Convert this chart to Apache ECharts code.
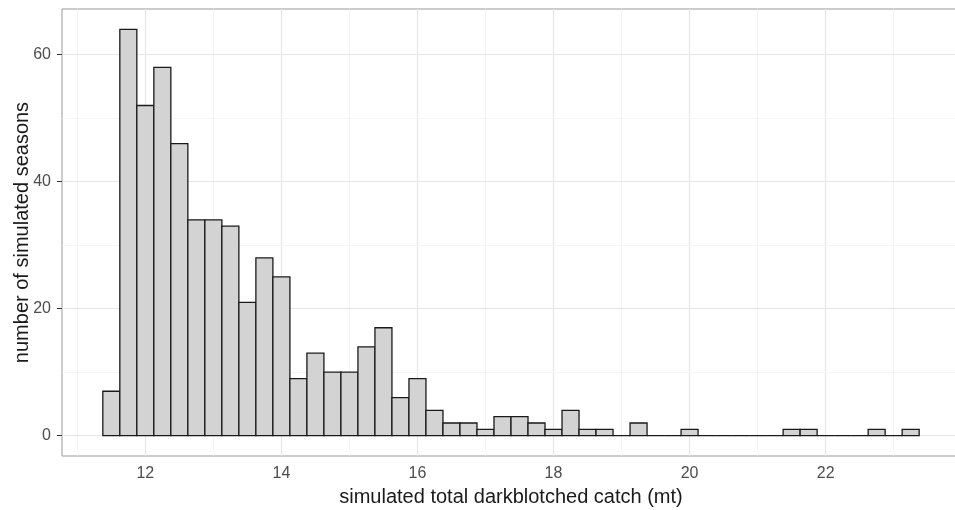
<!DOCTYPE html>
<html>
<head>
<meta charset="utf-8">
<script src="https://cdn.jsdelivr.net/npm/echarts@6/dist/echarts.min.js"></script>
<style>
  html, body { margin: 0; padding: 0; background: #fff; }
  #main { width: 955px; height: 510px; }
</style>
</head>
<body>
<div id="main"></div>
<script>
// histogram bins (width 0.25, first bin starts at 11.375)
var binStart = 11.375;
var binWidth = 0.25;
var counts = [7, 64, 52, 58, 46, 34, 34, 33, 21, 28, 25, 9, 13, 10, 10, 14,
  17, 6, 9, 4, 2, 2, 1, 3, 3, 2, 1, 4, 1, 1, 0, 2,
  0, 0, 1, 0, 0, 0, 0, 0, 1, 1, 0, 0, 0, 1, 0, 1];

var xTicks = [12, 14, 16, 18, 20, 22];
var xMinor = [11, 13, 15, 17, 19, 21, 23];
var yTicks = [0, 20, 40, 60];
var yMinor = [10, 30, 50];

var xTitle = 'simulated total darkblotched catch (mt)';
var yTitle = 'number of simulated seasons';

var binData = counts.map(function (c, i) {
  return [binStart + i * binWidth, binStart + (i + 1) * binWidth, c];
});

var chart = echarts.init(document.getElementById('main'));

var gridLines = [];
xTicks.forEach(function (v) { gridLines.push({xAxis: v, lineStyle: {color: '#e6e6e6', width: 1.2, type: 'solid'}}); });
xMinor.forEach(function (v) { gridLines.push({xAxis: v, lineStyle: {color: '#f3f3f3', width: 0.8, type: 'solid'}}); });
yTicks.forEach(function (v) { gridLines.push({yAxis: v, lineStyle: {color: '#e6e6e6', width: 1.2, type: 'solid'}}); });
yMinor.forEach(function (v) { gridLines.push({yAxis: v, lineStyle: {color: '#f3f3f3', width: 0.8, type: 'solid'}}); });

var option = {
  animation: false,
  backgroundColor: '#fff',
  textStyle: {fontFamily: 'Liberation Sans, Arial, sans-serif'},
  grid: {
    left: 62, top: 9, width: 898, height: 447,
    outerBoundsMode: 'none', containLabel: false,
    show: true, borderColor: '#999', borderWidth: 1, backgroundColor: '#fff'
  },
  xAxis: {
    type: 'value', min: 10.775, max: 23.975,
    name: xTitle, nameLocation: 'middle', nameGap: 31, nameMoveOverlap: false,
    nameTextStyle: {fontSize: 20, color: '#1a1a1a'},
    axisLine: {show: false},
    axisTick: {show: true, length: 5, lineStyle: {color: '#333'}, customValues: xTicks},
    axisLabel: {fontSize: 16, color: '#4d4d4d', margin: 10, customValues: xTicks},
    splitLine: {show: false}
  },
  yAxis: {
    type: 'value', min: -3.2, max: 67.2,
    name: yTitle, nameLocation: 'middle', nameGap: 30, nameMoveOverlap: false,
    nameTextStyle: {fontSize: 20, color: '#1a1a1a'},
    axisLine: {show: false},
    axisTick: {show: true, length: 5, lineStyle: {color: '#333'}, customValues: yTicks},
    axisLabel: {fontSize: 16, color: '#4d4d4d', margin: 11, customValues: yTicks},
    splitLine: {show: false}
  },
  series: [
    {
      type: 'line', data: [], z: 1, silent: true,
      markLine: {
        silent: true, symbol: 'none', label: {show: false},
        animation: false, data: gridLines
      }
    },
    {
      type: 'custom', z: 5,
      data: binData,
      encode: {x: [0, 1], y: 2},
      renderItem: function (params, api) {
        var top = api.coord([api.value(0), api.value(2)]);
        var bot = api.coord([api.value(1), 0]);
        return {
          type: 'rect',
          shape: {x: top[0], y: top[1], width: bot[0] - top[0], height: bot[1] - top[1]},
          style: {fill: '#d3d3d3', stroke: '#1a1a1a', lineWidth: 1.3}
        };
      }
    }
  ]
};

chart.setOption(option);
</script>
</body>
</html>
